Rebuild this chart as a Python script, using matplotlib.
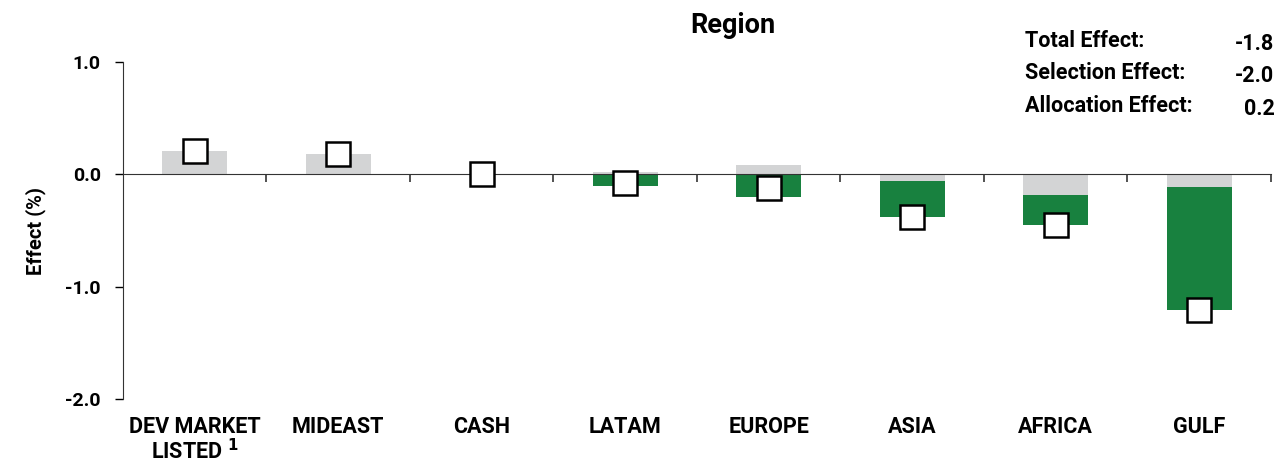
import numpy as np
import matplotlib
matplotlib.use('Agg')
import matplotlib.pyplot as plt
import matplotlib.transforms as mtransforms

plt.rcParams['font.family'] = ['Roboto', 'DejaVu Sans']
plt.rcParams['font.weight'] = 'bold'
plt.rcParams['axes.labelweight'] = 'bold'

regions = ['DEV MARKET\nLISTED $^{1}$', 'MIDEAST', 'CASH', 'LATAM', 'EUROPE', 'ASIA', 'AFRICA', 'GULF']
allocation = [0.21, 0.18, 0.0, 0.02, 0.08, -0.06, -0.18, -0.11]
selection = [0.0, 0.0, 0.0, -0.10, -0.20, -0.32, -0.27, -1.10]
total = [0.21, 0.18, 0.0, -0.08, -0.12, -0.38, -0.45, -1.21]

summary_labels = ['Total Effect:', 'Selection Effect:', 'Allocation Effect:']
summary_values = ['-1.8', '-2.0', '0.2']

GREEN = '#18813f'
GREY = '#d3d4d5'

fig = plt.figure(figsize=(12.77, 4.65), dpi=100)
ax = fig.add_axes([0.0963, 0.1419, 0.8990, 0.7248])

x = np.arange(len(regions))
alloc = np.array(allocation)
sel = np.array(selection)

# selection stacks onto the allocation bar when they share a sign, else starts from zero
sel_base = np.where(np.sign(sel) == np.sign(alloc), alloc, 0.0)

ax.bar(x, alloc, width=0.45, color=GREY, zorder=2)
ax.bar(x, sel, bottom=sel_base, width=0.45, color=GREEN, zorder=2)
ax.plot(x, total, 's', ms=17, mfc='white', mec='black', mew=1.8, zorder=4, clip_on=False)

ax.set_xlim(-0.5, 7.5)
ax.set_ylim(-2.0, 1.0)
ax.set_yticks([1.0, 0.0, -1.0, -2.0])
ax.set_yticklabels(['1.0', '0.0', '-1.0', '-2.0'], fontsize=14)
ax.tick_params(axis='y', length=6, width=1, direction='out', pad=10, colors='black')

ax.spines['top'].set_visible(False)
ax.spines['right'].set_visible(False)
ax.spines['bottom'].set_position(('data', 0))
ax.spines['bottom'].set_color('#333333')
ax.spines['left'].set_color('#333333')

ax.set_xticks(np.arange(0.5, 8.0, 1.0))
ax.set_xticklabels([])
ax.tick_params(axis='x', length=6, width=1.2, direction='out', colors='#333333')

trans = mtransforms.blended_transform_factory(ax.transData, ax.transAxes)
for xi, name in zip(x, regions):
    ax.text(xi, -0.05, name, transform=trans, ha='center', va='top',
            fontsize=15.5, linespacing=1.05)

ax.set_ylabel('Effect (%)', fontsize=14.5, labelpad=14)

fig.text(0.574, 0.945, 'Region', ha='center', va='center', fontsize=19.5)

for i, (lab, val) in enumerate(zip(summary_labels, summary_values)):
    y = 0.912 - i * 0.07
    fig.text(0.803, y, lab, ha='left', va='center', fontsize=15.5)
    fig.text(0.998, y - 0.006, val, ha='right', va='center', fontsize=15.5)

fig.savefig('out.png', dpi=100)
